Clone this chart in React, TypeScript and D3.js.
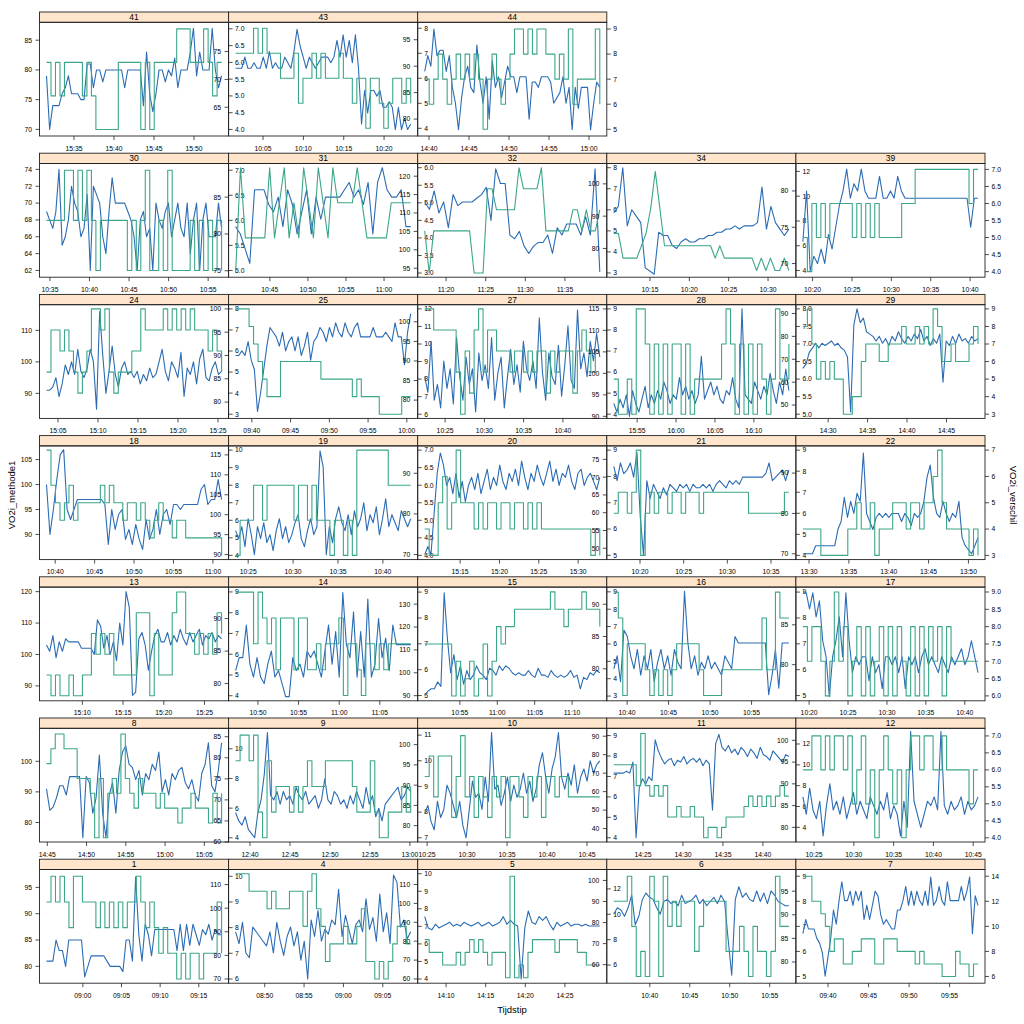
import React from 'react';
import * as d3 from 'd3';

// panels in lattice order (bottom-left first)
const panelIds = ['1', '4', '5', '6', '7', '8', '9', '10', '11', '12', '13', '14', '15', '16', '17',
  '18', '19', '20', '21', '22', '24', '25', '27', '28', '29', '30', '31', '32', '34', '39', '41', '43', '44'];

const startTimes = ['08:55:18', '08:46:18', '14:07:18', '10:35:30', '09:36:54', '14:44:54', '12:38:12', '10:24:42',
  '14:21:21', '10:23:36', '15:05:36', '10:47:15', '10:50:18', '10:38:24', '10:19:12', '10:38:54', '10:23:36',
  '15:10:30', '10:17:00', '13:29:14', '15:03:34', '09:37:54', '10:22:24', '15:52:00', '14:26:48', '10:34:34',
  '10:40:30', '11:17:18', '10:10:24', '10:18:46', '15:31:34', '10:01:36', '14:39:28'];
const endTimes = ['09:17:57', '09:08:33', '14:29:24', '10:57:24', '09:58:30', '15:07:12', '13:00:06', '10:46:36',
  '14:43:15', '10:45:36', '15:27:06', '11:08:48', '11:13:42', '10:59:30', '10:41:42', '11:01:06', '10:43:06',
  '15:32:45', '10:37:03', '13:51:12', '15:25:27', '10:00:30', '10:44:42', '16:14:30', '14:49:00', '10:56:42',
  '11:03:30', '11:39:24', '10:32:39', '10:41:00', '15:53:27', '10:23:18', '15:01:21'];

// VO2i_methode1 (left axis, blue)
const methode1: number[][] = [
  [81, 81, 81, 85, 83, 83, 80, 85, 85, 85, 85, 85, 78, 80, 82, 82, 82, 82, 82, 81, 80, 80, 80, 80, 79, 85, 85, 81, 97, 86, 81, 88, 86, 82, 87, 87, 87, 87, 87, 87, 87, 83, 88, 83, 88, 84, 88, 86, 84, 87, 86, 88, 85, 87, 86, 86], // 1
  [90, 85, 94, 81, 79, 92, 90, 88, 86, 84, 90, 81, 94, 86, 80, 88, 92, 84, 90, 78, 86, 70, 95, 88, 99, 86, 91, 89, 95, 93, 108, 88, 97, 91, 85, 93, 95, 90, 104, 91, 96, 86, 106, 90, 98, 85, 114, 111, 92, 95, 87, 90], // 4
  [93, 87, 86, 89, 87, 88, 89, 90, 88, 89, 88, 90, 89, 88, 89, 90, 88, 89, 90, 88, 89, 90, 93, 89, 91, 89, 88, 60, 87, 96, 90, 89, 93, 91, 93, 89, 86, 90, 88, 89, 90, 88, 89, 89, 88, 89, 88, 88, 88, 88], // 5
  [84, 87, 86, 83, 87, 93, 79, 83, 91, 94, 92, 91, 87, 84, 90, 91, 89, 90, 88, 93, 89, 90, 91, 93, 89, 91, 88, 90, 92, 89, 93, 90, 72, 55, 91, 97, 92, 94, 91, 90, 95, 90, 94, 89, 95, 93, 90, 89, 88, 88], // 6
  [86, 89, 87, 87, 87, 85, 84, 82, 77, 81, 85, 91, 88, 93, 97, 93, 93, 95, 92, 95, 93, 95, 89, 92, 89, 92, 95, 94, 90, 88, 89, 88, 87, 87, 91, 91, 93, 96, 92, 95, 92, 95, 93, 92, 95, 92, 98, 92, 93, 96, 93, 92, 97, 93, 93, 93, 93, 96, 93, 95, 98, 86, 94, 92], // 7
  [91, 84, 85, 88, 92, 92, 89, 95, 95, 95, 95, 75, 95, 93, 83, 88, 102, 83, 75, 89, 93, 83, 97, 103, 105, 99, 98, 94, 97, 89, 96, 94, 99, 97, 103, 90, 94, 89, 96, 94, 97, 98, 93, 91, 94, 89, 87, 96, 99, 106, 92, 90, 97, 106], // 8
  [67, 65, 64, 66, 63, 62, 61, 67, 70, 76, 86, 71, 70, 72, 69, 72, 70, 71, 69, 73, 71, 70, 72, 69, 70, 71, 68, 70, 75, 70, 69, 72, 71, 69, 70, 68, 71, 69, 72, 70, 68, 73, 69, 71, 66, 68, 65, 69, 70, 71, 72, 73, 70, 71, 73, 72], // 9
  [83, 85, 81, 79, 86, 82, 84, 90, 88, 85, 82, 86, 80, 77, 84, 91, 87, 88, 84, 92, 86, 103, 89, 90, 85, 88, 92, 86, 90, 87, 89, 93, 88, 91, 86, 89, 95, 98, 92, 88, 94, 97, 103, 92, 89, 93, 90, 95, 88, 92, 94, 91, 96, 93, 95, 96], // 10
  [70, 70, 70, 70, 71, 70, 76, 35, 62, 67, 64, 68, 66, 88, 82, 78, 75, 77, 78, 74, 77, 76, 79, 75, 77, 78, 76, 78, 74, 77, 75, 50, 86, 91, 84, 82, 85, 81, 83, 80, 84, 82, 79, 83, 81, 78, 84, 80, 79, 77, 82, 80, 78, 76, 80, 79], // 11
  [87, 83, 89, 84, 82, 86, 78, 85, 90, 84, 86, 83, 87, 82, 85, 88, 83, 86, 84, 82, 87, 85, 83, 86, 84, 88, 82, 85, 83, 78, 86, 80, 102, 86, 83, 80, 83, 86, 85, 87, 84, 102, 85, 83, 86, 84, 85, 87, 83, 86, 84, 85, 87], // 12
  [103, 101, 106, 99, 104, 101, 105, 104, 104, 104, 104, 102, 102, 102, 102, 100, 111, 109, 102, 106, 100, 104, 98, 110, 103, 120, 115, 87, 88, 105, 107, 103, 95, 101, 106, 108, 104, 104, 107, 103, 106, 104, 108, 105, 103, 107, 104, 106, 108, 103, 106, 105, 107, 104, 106, 105], // 13
  [82, 84, 84, 89, 83, 81, 84, 81, 80, 83, 85, 81, 82, 80, 78, 78, 84, 82, 83, 81, 85, 84, 85, 83, 81, 85, 89, 83, 88, 81, 94, 86, 84, 91, 81, 88, 81, 93, 81, 83, 90, 84, 87, 82, 89, 86, 86, 86, 86, 86], // 14
  [90, 92, 93, 93, 96, 94, 135, 115, 100, 108, 97, 103, 95, 101, 97, 99, 103, 100, 99, 97, 102, 101, 99, 103, 101, 103, 102, 100, 99, 100, 99, 99, 101, 99, 98, 102, 99, 99, 98, 101, 99, 98, 99, 98, 99, 101, 98, 99, 93, 98, 97, 100, 99, 101, 100], // 15
  [80, 82, 78, 86, 85, 82, 80, 83, 79, 82, 80, 83, 78, 81, 83, 80, 82, 79, 83, 81, 80, 92, 84, 80, 82, 79, 81, 80, 82, 80, 81, 80, 79, 82, 81, 80, 85, 84, 84, 84, 84, 84, 84, 84, 84, 84, 76, 79, 83, 77, 84, 84, 84], // 16
  [89, 89, 87, 89, 86, 88, 83, 81, 76, 81, 83, 86, 81, 89, 83, 79, 81, 80, 81, 81, 78, 81, 79, 80, 77, 81, 81, 80, 81, 79, 81, 77, 81, 80, 81, 79, 81, 82, 80, 81, 80, 79, 81, 80, 79, 81, 80, 81, 82, 80, 81, 83, 81, 79], // 17
  [100, 90, 95, 101, 106, 107, 95, 93, 95, 97, 97, 97, 97, 97, 97, 97, 97, 96, 88, 95, 91, 94, 95, 89, 91, 88, 92, 89, 87, 93, 89, 91, 95, 90, 94, 95, 92, 96, 96, 95, 96, 96, 96, 96, 96, 99, 100, 96, 97, 97, 101, 97], // 18
  [96, 94, 97, 92, 99, 95, 90, 97, 94, 98, 93, 95, 91, 96, 99, 94, 97, 93, 95, 98, 100, 94, 92, 96, 99, 95, 97, 116, 112, 90, 97, 93, 99, 102, 98, 96, 100, 95, 101, 97, 99, 103, 96, 100, 98, 102, 95, 99, 104, 97, 100, 98, 96, 101, 99, 97, 99], // 19
  [70, 72, 70, 80, 90, 95, 92, 87, 89, 85, 90, 84, 88, 83, 87, 89, 86, 90, 85, 88, 91, 86, 89, 87, 92, 88, 86, 90, 88, 91, 87, 93, 89, 86, 90, 88, 92, 89, 87, 90, 93, 88, 91, 87, 90, 89, 92, 88, 86, 90, 91, 87, 89, 90, 88, 86, 89], // 20
  [73, 69, 74, 71, 72, 74, 70, 77, 59, 48, 69, 64, 68, 66, 64, 67, 65, 68, 67, 66, 68, 67, 68, 66, 68, 67, 67, 68, 67, 68, 66, 68, 69, 68, 67, 69, 68, 69, 68, 70, 70, 70, 70, 70, 70, 70, 71, 74, 69, 70, 71, 72, 69, 72], // 21
  [70, 70, 70, 70, 72, 72, 72, 72, 72, 72, 72, 76, 78, 84, 79, 83, 80, 85, 83, 95, 80, 78, 76, 79, 80, 79, 80, 79, 80, 80, 80, 78, 80, 79, 77, 80, 79, 80, 83, 89, 92, 84, 80, 79, 83, 80, 78, 80, 79, 83, 74, 72, 71, 70, 72, 74], // 22
  [91, 91, 92, 95, 89, 93, 99, 96, 100, 96, 104, 97, 95, 98, 104, 100, 85, 116, 102, 90, 97, 105, 96, 92, 98, 100, 96, 97, 95, 97, 93, 96, 94, 98, 95, 96, 100, 104, 97, 94, 100, 98, 95, 103, 89, 98, 96, 100, 93, 101, 104, 95, 94, 98, 100, 96, 97], // 24
  [90, 90, 91, 90, 93, 89, 87, 78, 82, 87, 92, 96, 95, 94, 92, 95, 91, 93, 94, 91, 94, 90, 92, 95, 89, 93, 94, 96, 95, 93, 96, 94, 97, 95, 94, 97, 95, 94, 96, 97, 94, 94, 94, 94, 96, 94, 94, 94, 95, 94, 93, 97, 94, 94, 88, 95, 99], // 25
  [86, 82, 95, 80, 84, 78, 90, 83, 88, 79, 96, 86, 80, 91, 84, 88, 77, 92, 85, 89, 83, 96, 80, 87, 91, 78, 86, 93, 84, 89, 82, 95, 88, 85, 90, 83, 101, 87, 80, 92, 86, 84, 94, 81, 89, 99, 85, 83, 103, 88, 92, 86, 95, 90, 97, 91], // 27
  [93, 91, 94, 92, 95, 90, 96, 93, 91, 94, 97, 92, 95, 93, 96, 94, 98, 96, 93, 95, 94, 99, 95, 97, 94, 96, 93, 95, 104, 94, 96, 98, 95, 97, 94, 93, 96, 95, 99, 94, 92, 115, 95, 94, 93, 98, 96, 94, 97, 95, 100, 96, 93, 98, 95, 101, 96], // 28
  [66, 68, 73, 75, 77, 75, 77, 76, 77, 78, 76, 77, 75, 74, 71, 47, 85, 92, 86, 88, 82, 81, 80, 78, 80, 77, 79, 76, 80, 78, 82, 79, 77, 80, 78, 81, 79, 83, 78, 80, 76, 79, 77, 81, 60, 78, 76, 80, 77, 81, 78, 79, 77, 80, 78, 79], // 29
  [69, 68, 67, 69, 74, 65, 66, 68, 72, 70, 69, 66, 67, 71, 62, 72, 71, 70, 66, 64, 69, 73, 70, 70, 70, 70, 69, 68, 66, 62, 68, 69, 66, 67, 62, 70, 68, 67, 69, 70, 66, 68, 70, 67, 66, 70, 64, 68, 70, 62, 68, 70, 66, 66, 66, 70, 67], // 30
  [81, 80, 78, 76, 86, 86, 86, 84, 83, 85, 81, 86, 84, 80, 83, 86, 80, 85, 82, 85, 85, 85, 85, 86, 87, 85, 86, 84, 87, 80, 87, 89, 86, 85, 85, 86, 81, 81], // 31
  [113, 111, 116, 110, 113, 106, 115, 112, 113, 113, 113, 114, 115, 117, 108, 122, 118, 118, 104, 103, 105, 101, 99, 101, 102, 102, 104, 99, 106, 104, 107, 107, 107, 104, 109, 104, 122, 94], // 32
  [91, 93, 105, 87, 92, 90, 88, 74, 73, 72, 85, 84, 84, 81, 80, 82, 83, 82, 82, 83, 83, 84, 84, 85, 85, 86, 86, 87, 86, 87, 87, 87, 88, 99, 86, 93, 88, 86, 84, 86], // 34
  [73, 80, 69, 71, 70, 72, 70, 74, 72, 75, 78, 80, 83, 79, 81, 80, 83, 80, 79, 79, 79, 82, 79, 79, 80, 79, 82, 80, 79, 79, 79, 79, 79, 79, 79, 79, 79, 79, 79, 79, 79, 79, 79, 79, 79, 79, 75, 79, 79], // 39
  [79, 70, 74, 74, 74, 76, 77, 79, 76, 76, 76, 75, 75, 81, 81, 77, 80, 80, 78, 80, 80, 80, 80, 80, 80, 77, 80, 80, 80, 80, 80, 74, 83, 76, 73, 76, 80, 80, 78, 80, 79, 82, 77, 80, 80, 80, 83, 87, 79, 83, 80, 80, 80, 87, 80, 77, 79], // 41
  [72, 72, 72, 74, 72, 72, 73, 72, 72, 74, 72, 75, 72, 73, 72, 72, 74, 73, 72, 75, 79, 76, 74, 72, 74, 73, 72, 73, 74, 74, 74, 73, 74, 77, 74, 78, 74, 77, 73, 78, 72, 62, 68, 64, 68, 68, 67, 68, 65, 65, 66, 65, 61, 65, 61, 63, 61, 62], // 43
  [89, 92, 90, 97, 92, 93, 93, 89, 92, 86, 83, 78, 84, 88, 90, 86, 85, 94, 87, 83, 88, 80, 91, 86, 88, 84, 87, 90, 88, 88, 85, 88, 88, 88, 80, 87, 87, 86, 88, 88, 88, 87, 83, 84, 85, 88, 83, 86, 78, 86, 82, 86, 86, 86, 78, 83, 87, 86], // 44
];

// VO2i_verschil (right axis, green)
const verschil: number[][] = [
  [9, 10, 9, 10, 9, 8, 10, 10, 9, 9, 9, 8, 9, 8, 9, 8, 9, 8, 9, 9, 10, 9, 8, 9, 8, 7, 8, 7, 7, 6, 7, 6, 7, 7, 6, 7, 7, 7, 9, 7], // 1
  [10, 10, 10, 9, 9, 9, 9, 8, 9, 8, 8, 8, 9, 9, 9, 7, 9, 10, 8, 7, 5, 6, 6, 6, 7, 6, 6, 7, 8, 5, 5, 4, 5, 4, 5, 6, 7, 7, 6, 6], // 4
  [8, 7, 7, 7, 6, 6, 6, 7, 6, 7, 8, 7, 8, 7, 6, 7, 7, 7, 5, 13, 5, 6, 5, 7, 8, 8, 8, 8, 8, 7, 8, 8, 8, 8, 7, 7, 6, 6, 6, 6], // 5
  [8, 8, 8, 9, 7, 5, 6, 5, 9, 8, 5, 9, 7, 8, 7, 8, 8, 8, 6, 7, 8, 8, 8, 8, 8, 6, 6, 6, 7, 6, 5, 7, 6, 6, 5, 6, 9, 7, 7, 7], // 6
  [14, 14, 12, 12, 11, 10, 8, 9, 9, 7, 7, 8, 8, 9, 9, 9, 7, 7, 9, 9, 9, 8, 8, 8, 8, 7, 8, 7, 7, 7, 7, 6, 6, 6, 8, 7, 7, 6, 7, 7], // 7
  [9, 10, 11, 11, 10, 10, 10, 8, 8, 8, 7, 4, 8, 4, 7, 8, 7, 11, 8, 7, 6, 8, 7, 7, 7, 6, 7, 6, 6, 6, 5, 6, 6, 7, 6, 6, 6, 5, 7, 5, 7], // 8
  [10, 11, 11, 10, 11, 8, 7, 10, 8, 9, 9, 9, 8, 9, 8, 9, 10, 9, 9, 9, 10, 10, 10, 10, 10, 10, 9, 8, 8, 8, 10, 8, 7, 7, 8, 8, 8, 9, 8, 9], // 9
  [7, 8, 6, 8, 8, 8, 5, 7, 9, 6, 7, 5, 7, 6, 5, 7, 6, 7, 4, 7, 7, 6, 5, 7, 6, 7, 5, 7, 7, 6, 7, 7, 6, 6, 6, 6, 6, 6, 6, 6], // 10
  [10, 10, 10, 10, 10, 8, 13, 8, 7, 8, 7, 8, 5, 5, 6, 5, 5, 6, 5, 5, 3, 4, 4, 3, 4, 5, 5, 5, 5, 6, 7, 6, 7, 6, 7, 6, 7, 8, 7, 7], // 11
  [6, 6, 7, 7, 6, 7, 6, 7, 7, 6, 7, 5, 6, 7, 5, 6, 4, 6, 7, 6, 5, 6, 4, 6, 7, 7, 6, 7, 7, 6, 6, 7, 6, 6, 6, 6, 6, 5, 6, 6], // 12
  [5, 4, 5, 4, 4, 5, 4, 4, 5, 5, 7, 6, 7, 6, 7, 5, 5, 5, 5, 5, 8, 8, 8, 4, 7, 5, 5, 5, 8, 9, 9, 7, 7, 6, 7, 6, 7, 6, 8, 7], // 13
  [9, 9, 9, 9, 7, 9, 8, 7, 8, 6, 8, 8, 8, 6, 8, 8, 6, 6, 7, 6, 7, 7, 7, 8, 5, 7, 7, 6, 5, 7, 7, 6, 7, 6, 7, 7, 7, 7, 7, 7], // 14
  [6, 6, 6, 6, 6, 6, 3, 5, 3, 4, 5, 3, 4, 6, 3, 5, 7, 6, 7, 7, 8, 8, 8, 8, 8, 8, 8, 8, 9, 8, 8, 7, 8, 8, 8, 9, 8, 8, 8, 7], // 15
  [9, 8, 5, 7, 7, 7, 7, 6, 5, 6, 5, 6, 5, 6, 7, 7, 7, 7, 7, 6, 5, 5, 5, 5, 6, 6, 6, 6, 6, 6, 6, 6, 6, 8, 6, 6, 9, 8, 8, 8], // 16
  [8, 7, 8, 8, 7, 6, 7, 9, 7, 8, 6, 7, 8, 6, 8, 6, 7, 8, 6, 8, 6, 8, 7, 6, 8, 6, 8, 6, 8, 7, 8, 6, 8, 7, 7, 7, 7, 7, 7, 7], // 17
  [10, 8, 7, 6, 7, 8, 6, 7, 7, 7, 7, 7, 8, 7, 8, 7, 7, 6, 7, 7, 6, 7, 6, 5, 6, 7, 6, 6, 5, 6, 6, 5, 5, 5, 5, 5, 5, 5, 5, 4], // 18
  [4, 5, 5, 5, 6, 6, 5, 6, 6, 6, 6, 6, 6, 5, 6, 6, 5, 6, 5, 5, 5, 4, 5, 5, 4, 5, 4, 7, 7, 7, 7, 7, 7, 7, 6, 6, 6, 6, 6, 6], // 19
  [6, 5, 5, 7, 8, 6, 7, 9, 7, 7, 7, 6, 7, 6, 7, 7, 6, 7, 7, 6, 7, 7, 6, 7, 6, 7, 6, 6, 6, 6, 6, 6, 6, 6, 6, 6, 6, 5, 6, 5], // 20
  [6, 7, 7, 6, 7, 9, 4, 6, 7, 6, 7, 7, 6, 7, 7, 6, 7, 7, 7, 6, 7, 7, 7, 7, 7, 7, 7, 7, 7, 7, 6, 6, 6, 6, 6, 6, 6, 6, 7, 7], // 21
  [4, 4, 4, 4, 3, 3, 3, 3, 3, 3, 4, 4, 5, 4, 4, 5, 3, 4, 4, 4, 5, 5, 5, 4, 5, 5, 4, 5, 5, 6, 7, 5, 4, 4, 4, 4, 4, 3, 4, 3], // 22
  [5, 7, 7, 6, 7, 6, 5, 4, 5, 6, 8, 8, 7, 8, 5, 4, 5, 5, 5, 6, 6, 8, 7, 7, 7, 7, 8, 7, 8, 7, 8, 7, 8, 7, 7, 7, 6, 7, 6, 5], // 24
  [12, 12, 12, 11, 10, 9, 8, 7, 7, 7, 9, 9, 9, 9, 9, 9, 9, 9, 9, 8, 8, 8, 8, 8, 8, 8, 7, 8, 7, 7, 7, 7, 6, 6, 6, 6, 6, 7, 7, 7], // 25
  [9, 9, 8, 8, 8, 8, 8, 6, 4, 7, 5, 8, 9, 6, 8, 8, 7, 7, 7, 6, 7, 7, 6, 7, 6, 7, 7, 5, 7, 6, 7, 7, 7, 5, 7, 8, 7, 6, 7, 7], // 27
  [6, 5, 5, 6, 5, 8, 8, 7, 5, 7, 5, 7, 5, 7, 7, 5, 7, 5, 6, 6, 6, 6, 6, 6, 7, 8, 7, 5, 7, 5, 7, 5, 7, 6, 5, 6, 8, 6, 6, 7], // 28
  [8, 9, 7, 5, 6, 5, 6, 5, 5, 3, 3, 4, 4, 6, 7, 7, 7, 6, 6, 7, 7, 7, 8, 7, 7, 8, 7, 8, 7, 9, 8, 6, 6, 7, 6, 6, 6, 7, 8, 7], // 29
  [6, 6, 6, 6, 7, 7, 6, 7, 6, 7, 6, 5, 6, 6, 6, 6, 6, 6, 5, 6, 5, 6, 7, 5, 5, 6, 5, 7, 5, 5, 5, 5, 6, 5, 6, 5, 6, 5, 6, 5], // 30
  [3, 6, 4, 4, 4, 4, 4, 6, 4, 5, 6, 4, 5, 4, 6, 5, 4, 6, 5, 4, 6, 5, 5, 5, 5, 6, 5, 4, 4, 4, 4, 4, 5, 5, 5, 5, 5], // 31
  [5, 3, 5, 5, 5, 5, 5, 5, 5, 5, 5, 3, 3, 3, 7, 7, 6, 6, 6, 6, 6, 8, 7, 7, 7, 7, 8, 5, 5, 5, 5, 5, 5, 6, 6, 5, 6, 5, 5, 6], // 32
  [7, 7, 5, 5, 5, 5, 6, 7, 9, 12, 9, 6, 6, 6, 6, 6, 6, 6, 6, 6, 6, 6, 5, 6, 5, 5, 5, 5, 5, 5, 5, 4, 5, 4, 5, 4, 4, 5, 4], // 34
  [5, 4, 6, 5, 6, 5, 6, 6, 6, 6, 6, 5, 6, 5, 6, 5, 6, 5, 5, 5, 5, 5, 6, 6, 6, 7, 7, 7, 7, 7, 7, 7, 7, 7, 7, 7, 7, 6, 7, 7], // 39
  [6, 5, 6, 5, 6, 6, 6, 6, 5, 6, 5, 4, 4, 4, 4, 4, 6, 6, 6, 6, 6, 4, 6, 4, 6, 6, 6, 6, 6, 7, 7, 7, 6, 6, 6, 7, 6, 5, 6, 6], // 41
  [7, 7, 7, 7, 8, 7, 8, 7, 7, 7, 6, 6, 6, 7, 5, 6, 6, 7, 6, 7, 6, 6, 6, 7, 6, 6, 5, 6, 6, 4, 6, 6, 5, 4, 5, 6, 6, 5, 6, 5], // 43
  [7, 6, 7, 8, 7, 6, 7, 8, 7, 8, 7, 8, 7, 5, 7, 8, 7, 6, 7, 8, 9, 9, 8, 9, 8, 9, 9, 8, 8, 7, 8, 7, 9, 6, 7, 7, 7, 7, 9, 6], // 44
];

// value extents of each series per panel
const methode1Range: [number, number][] = [
  [77.6, 97.6], [70, 114.6], [60, 115.7], [53.2, 103.2], [76.4, 98.7], [75, 109.4], [61, 86], [77, 103],
  [35, 92], [77.6, 101.8], [86.6, 120.1], [78, 94.2], [89.6, 135.6], [75.7, 92], [76, 89.2], [85.8, 106.9],
  [89.8, 116.2], [69.8, 95.7], [48, 77.6], [69.6, 95.7], [83.4, 116.8], [77.4, 100], [76.4, 103.3], [90.5, 115],
  [46, 92], [61.7, 74.2], [74.7, 89], [93.7, 122.3], [72.4, 105], [68.7, 83.2], [69.6, 87.3], [60.6, 79.5], [77.6, 97.5]];
const verschilRange: [number, number][] = [
  [6, 10.1], [4, 10], [4.9, 13.2], [4.9, 9.1], [5.8, 14.2], [4, 11.1], [7, 11.1], [4, 9.15],
  [3, 13.1], [4, 7.1], [3.96, 9.03], [4.96, 9.03], [2.97, 9.03], [4.96, 9.03], [5.98, 9.02], [4, 10],
  [4, 7], [5, 9], [4, 9], [3, 7], [3, 8], [6, 12], [4, 9], [5, 8],
  [3, 9], [4.95, 7.05], [3, 6], [3, 8], [3.8, 12.3], [3.96, 7.05], [3.93, 7.07], [3.86, 8.07], [4.9, 9.1]];

// tick labels per panel
const methode1Ticks: number[][] = [
  [80, 85, 90, 95], [70, 80, 90, 100, 110], [60, 70, 80, 90, 100, 110], [60, 70, 80, 90, 100], [80, 85, 90, 95],
  [80, 90, 100], [60, 65, 70, 75, 80, 85], [80, 85, 90, 95, 100], [40, 50, 60, 70, 80, 90], [80, 85, 90, 95, 100],
  [90, 100, 110, 120], [80, 85, 90], [90, 100, 110, 120, 130], [80, 85, 90], [80, 85],
  [90, 95, 100, 105], [90, 95, 100, 105, 110, 115], [70, 80, 90], [50, 55, 60, 65, 70, 75], [70, 80, 90],
  [90, 100, 110], [80, 85, 90, 95, 100], [80, 85, 90, 95, 100], [90, 95, 100, 105, 110, 115], [50, 60, 70, 80, 90],
  [62, 64, 66, 68, 70, 72, 74], [75, 80, 85], [95, 100, 105, 110, 115, 120], [80, 90, 100], [70, 75, 80],
  [70, 75, 80, 85], [65, 70, 75], [80, 85, 90, 95]];
const halfSteps47 = [4, 4.5, 5, 5.5, 6, 6.5, 7];
const verschilTicks: number[][] = [
  [6, 7, 8, 9, 10], [4, 5, 6, 7, 8, 9, 10], [6, 8, 10, 12], [5, 6, 7, 8, 9], [6, 8, 10, 12, 14],
  [4, 6, 8, 10], [7, 8, 9, 10, 11], [4, 5, 6, 7, 8, 9], [4, 6, 8, 10, 12], halfSteps47,
  [4, 5, 6, 7, 8, 9], [5, 6, 7, 8, 9], [3, 4, 5, 6, 7, 8, 9], [5, 6, 7, 8, 9], [6, 6.5, 7, 7.5, 8, 8.5, 9],
  [4, 5, 6, 7, 8, 9, 10], halfSteps47, [5, 6, 7, 8, 9], [4, 5, 6, 7, 8, 9], [3, 4, 5, 6, 7],
  [3, 4, 5, 6, 7, 8], [6, 7, 8, 9, 10, 11, 12], [4, 5, 6, 7, 8, 9], [5, 5.5, 6, 6.5, 7, 7.5, 8], [3, 4, 5, 6, 7, 8, 9],
  [5, 5.5, 6, 6.5, 7], [3, 3.5, 4, 4.5, 5, 5.5, 6], [3, 4, 5, 6, 7, 8], [4, 6, 8, 10, 12], halfSteps47,
  halfSteps47, [4, 5, 6, 7, 8], [5, 6, 7, 8, 9]];

// panels with few samples, drawn with straight segments instead of steps
const sparsePanels = ['31', '32', '34'];

const gridLeft = 39.5;
const panelW = 189.1;
const gridTop = 12;
const rowStep = 141.2;
const stripH = 10.3;
const panelH = 113.7;
const nCol = 5;
const nRow = 7;
const blueCol = '#2b6cb4';
const greenCol = '#3ba68a';
const font = '"Liberation Sans", Arial, Helvetica, sans-serif';

const parseT = d3.timeParse('%H:%M:%S');
const fmtT = d3.timeFormat('%H:%M');

const pad = (lo: number, hi: number): [number, number] => {
  const d = hi - lo;
  return [lo - 0.04 * d, hi + 0.04 * d];
};

const fmtTicks = (ticks: number[]) => {
  const dec = ticks.some((t) => !Number.isInteger(t));
  return ticks.map((t) => (dec ? t.toFixed(1) : String(t)));
};

function Panel({ idx }: { idx: number }) {
  const col = idx % nCol;
  const row = nRow - 1 - Math.floor(idx / nCol);
  const x0 = gridLeft + col * panelW;
  const x1 = x0 + panelW;
  const sTop = gridTop + row * rowStep;
  const y0 = sTop + stripH;
  const y1 = y0 + panelH;

  const t0 = parseT(startTimes[idx])!.getTime();
  const t1 = parseT(endTimes[idx])!.getTime();
  const span = t1 - t0;
  const x = d3.scaleTime()
    .domain([new Date(t0 - 0.04 * span), new Date(t1 + 0.04 * span)])
    .range([x0, x1]);

  const yb = d3.scaleLinear().domain(pad(...methode1Range[idx])).range([y1, y0]);
  const yg = d3.scaleLinear().domain(pad(...verschilRange[idx])).range([y1, y0]);

  const series = (vals: number[]) => vals.map((v, i) => [t0 + (i * span) / (vals.length - 1), v] as [number, number]);

  const sparse = sparsePanels.includes(panelIds[idx]);
  const blueLine = d3.line<[number, number]>()
    .x((d) => x(new Date(d[0])))
    .y((d) => yb(d[1]));
  const greenLine = d3.line<[number, number]>()
    .x((d) => x(new Date(d[0])))
    .y((d) => yg(d[1]))
    .curve(sparse ? d3.curveLinear : d3.curveStepAfter);

  const xt = x.ticks(d3.timeMinute.every(5)!).filter((t) => {
    const px = x(t);
    return px > x0 + 6 && px < x1 - 6;
  });

  const inDomain = (s: d3.ScaleLinear<number, number>, v: number) => {
    const [a, b] = s.domain();
    return v >= a - 1e-9 && v <= b + 1e-9;
  };
  const bt = methode1Ticks[idx].filter((v) => inDomain(yb, v));
  const gt = verschilTicks[idx].filter((v) => inDomain(yg, v));
  const btLab = fmtTicks(bt);
  const gtLab = fmtTicks(gt);

  const clipId = `clip-${panelIds[idx]}`;

  return (
    <g>
      <defs>
        <clipPath id={clipId}>
          <rect x={x0} y={y0} width={panelW} height={panelH} />
        </clipPath>
      </defs>
      {/* strip */}
      <rect x={x0} y={sTop} width={panelW} height={stripH} fill="#ffe5cc" stroke="#222" strokeWidth={0.9} />
      <text x={x0 + panelW / 2} y={sTop + stripH / 2} dy="0.36em" textAnchor="middle" fontSize={8.5} fill="#000">
        {panelIds[idx]}
      </text>
      {/* lines */}
      <g clipPath={`url(#${clipId})`} fill="none" strokeWidth={1.1} strokeLinejoin="round">
        <path d={blueLine(series(methode1[idx])) ?? ''} stroke={blueCol} />
        <path d={greenLine(series(verschil[idx])) ?? ''} stroke={greenCol} />
      </g>
      <rect x={x0} y={y0} width={panelW} height={panelH} fill="none" stroke="#222" strokeWidth={0.9} />
      {/* bottom time axis */}
      {xt.map((t, i) => (
        <g key={`x${i}`}>
          <line x1={x(t)} x2={x(t)} y1={y1} y2={y1 + 4} stroke="#222" strokeWidth={0.8} />
          <text x={x(t)} y={y1 + 14.5} textAnchor="middle" fontSize={6.8} fill="#000">{fmtT(t)}</text>
        </g>
      ))}
      {/* left axis: VO2i_methode1 */}
      {bt.map((v, i) => (
        <g key={`b${i}`}>
          <line x1={x0 - 4} x2={x0} y1={yb(v)} y2={yb(v)} stroke="#222" strokeWidth={0.8} />
          <text x={x0 - 7.5} y={yb(v)} dy="0.35em" textAnchor="end" fontSize={6.8} fill="#000">{btLab[i]}</text>
        </g>
      ))}
      {/* right axis: VO2i_verschil */}
      {gt.map((v, i) => (
        <g key={`g${i}`}>
          <line x1={x1} x2={x1 + 4} y1={yg(v)} y2={yg(v)} stroke="#222" strokeWidth={0.8} />
          <text x={x1 + 6.5} y={yg(v)} dy="0.35em" textAnchor="start" fontSize={6.8} fill="#000">{gtLab[i]}</text>
        </g>
      ))}
    </g>
  );
}

export default function App() {
  const midY = 495;
  return (
    <svg
      width={1024}
      height={1024}
      viewBox="0 0 1024 1024"
      style={{ position: 'absolute', left: 0, top: 0, background: '#fff' }}
      fontFamily={font}
    >
      <rect width={1024} height={1024} fill="#fff" />
      {panelIds.map((id, i) => (
        <Panel key={id} idx={i} />
      ))}
      <text x={512} y={1013} textAnchor="middle" fontSize={9.5} fill="#000">Tijdstip</text>
      <text transform={`translate(15,${midY}) rotate(-90)`} textAnchor="middle" fontSize={9.5} fill="#000">VO2i_methode1</text>
      <text transform={`translate(1010,${midY}) rotate(90)`} textAnchor="middle" fontSize={9.5} fill="#000">VO2i_verschil</text>
    </svg>
  );
}
